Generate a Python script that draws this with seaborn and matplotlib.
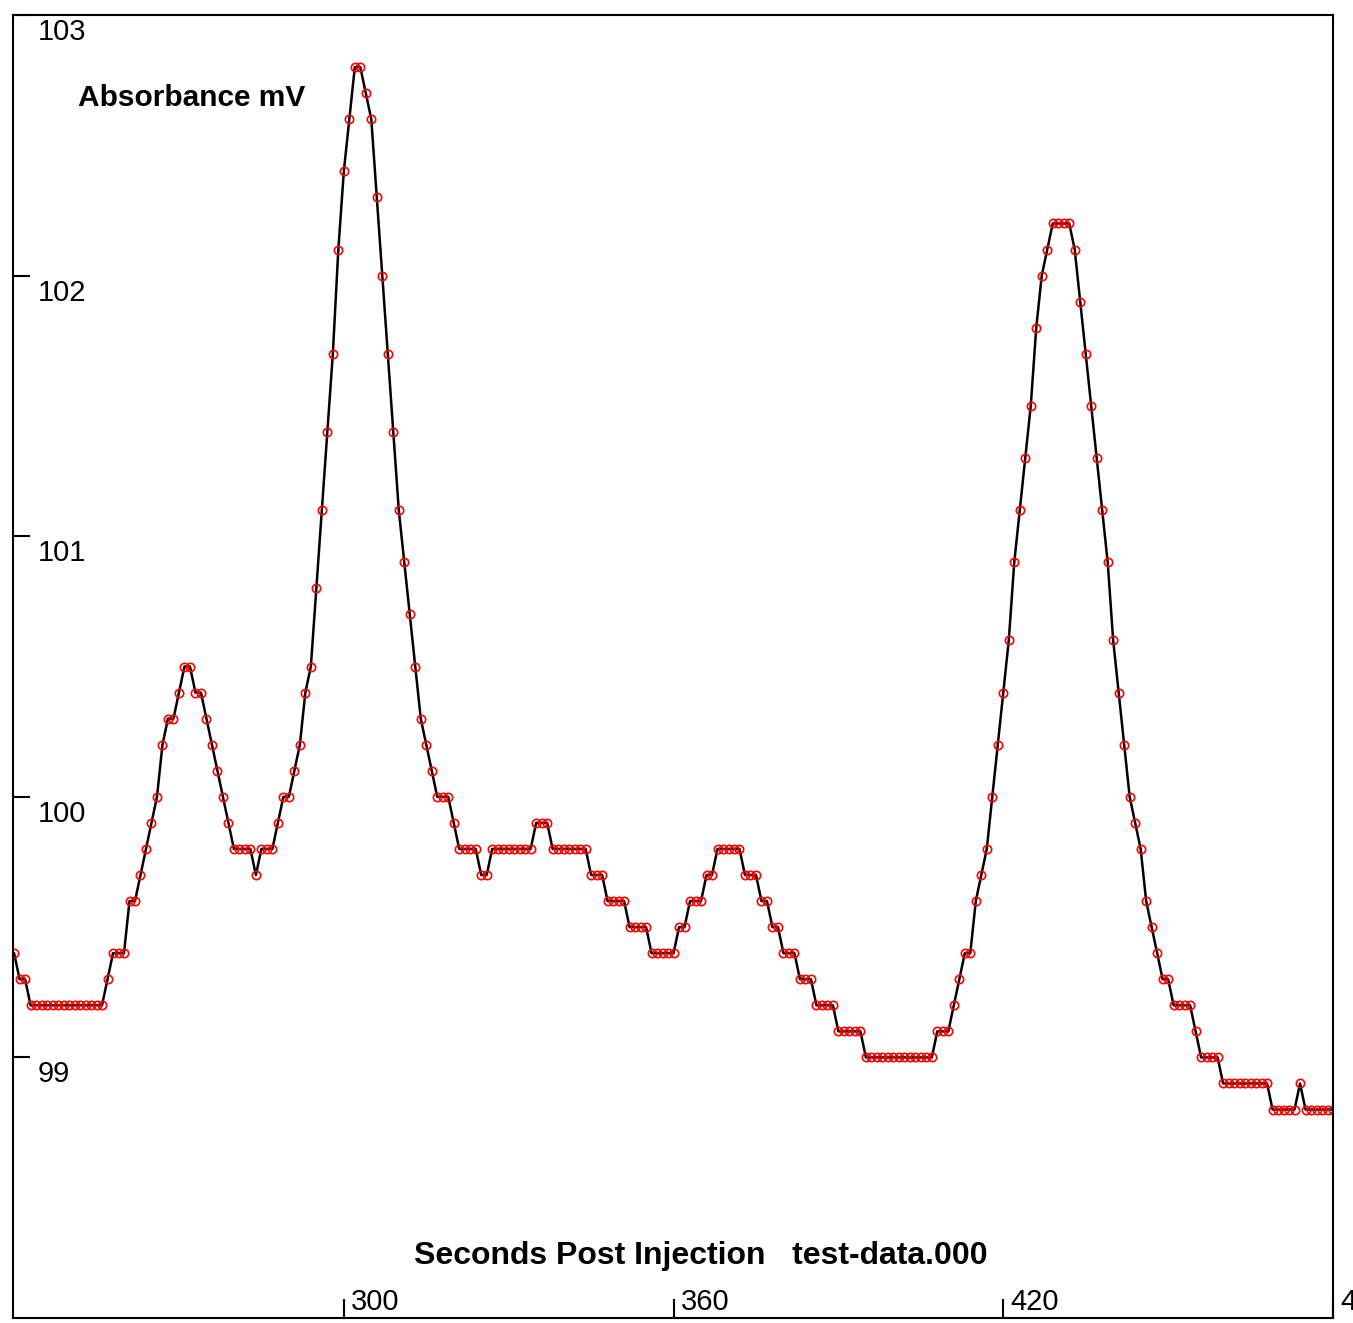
import numpy as np
import pandas as pd
import matplotlib
matplotlib.use("Agg")
import matplotlib.pyplot as plt
import matplotlib.transforms as mtransforms
import seaborn as sns

# Detector trace, one reading per second starting at 240 s (mV, 0.1 mV resolution)
first_second = 240
absorbance_mv = [
    99.4, 99.3, 99.3, 99.2, 99.2, 99.2, 99.2, 99.2, 99.2, 99.2,        # 240-249
    99.2, 99.2, 99.2, 99.2, 99.2, 99.2, 99.2, 99.3, 99.4, 99.4,        # 250-259
    99.4, 99.6, 99.6, 99.7, 99.8, 99.9, 100.0, 100.2, 100.3, 100.3,    # 260-269
    100.4, 100.5, 100.5, 100.4, 100.4, 100.3, 100.2, 100.1, 100.0, 99.9,  # 270-279
    99.8, 99.8, 99.8, 99.8, 99.7, 99.8, 99.8, 99.8, 99.9, 100.0,       # 280-289
    100.0, 100.1, 100.2, 100.4, 100.5, 100.8, 101.1, 101.4, 101.7, 102.1,  # 290-299
    102.4, 102.6, 102.8, 102.8, 102.7, 102.6, 102.3, 102.0, 101.7, 101.4,  # 300-309
    101.1, 100.9, 100.7, 100.5, 100.3, 100.2, 100.1, 100.0, 100.0, 100.0,  # 310-319
    99.9, 99.8, 99.8, 99.8, 99.8, 99.7, 99.7, 99.8, 99.8, 99.8,        # 320-329
    99.8, 99.8, 99.8, 99.8, 99.8, 99.9, 99.9, 99.9, 99.8, 99.8,        # 330-339
    99.8, 99.8, 99.8, 99.8, 99.8, 99.7, 99.7, 99.7, 99.6, 99.6,        # 340-349
    99.6, 99.6, 99.5, 99.5, 99.5, 99.5, 99.4, 99.4, 99.4, 99.4,        # 350-359
    99.4, 99.5, 99.5, 99.6, 99.6, 99.6, 99.7, 99.7, 99.8, 99.8,        # 360-369
    99.8, 99.8, 99.8, 99.7, 99.7, 99.7, 99.6, 99.6, 99.5, 99.5,        # 370-379
    99.4, 99.4, 99.4, 99.3, 99.3, 99.3, 99.2, 99.2, 99.2, 99.2,        # 380-389
    99.1, 99.1, 99.1, 99.1, 99.1, 99.0, 99.0, 99.0, 99.0, 99.0,        # 390-399
    99.0, 99.0, 99.0, 99.0, 99.0, 99.0, 99.0, 99.0, 99.1, 99.1,        # 400-409
    99.1, 99.2, 99.3, 99.4, 99.4, 99.6, 99.7, 99.8, 100.0, 100.2,      # 410-419
    100.4, 100.6, 100.9, 101.1, 101.3, 101.5, 101.8, 102.0, 102.1, 102.2,  # 420-429
    102.2, 102.2, 102.2, 102.1, 101.9, 101.7, 101.5, 101.3, 101.1, 100.9,  # 430-439
    100.6, 100.4, 100.2, 100.0, 99.9, 99.8, 99.6, 99.5, 99.4, 99.3,    # 440-449
    99.3, 99.2, 99.2, 99.2, 99.2, 99.1, 99.0, 99.0, 99.0, 99.0,        # 450-459
    98.9, 98.9, 98.9, 98.9, 98.9, 98.9, 98.9, 98.9, 98.9, 98.8,        # 460-469
    98.8, 98.8, 98.8, 98.8, 98.9, 98.8, 98.8, 98.8, 98.8, 98.8,        # 470-479
    98.8,                                                              # 480
]
seconds = first_second + np.arange(len(absorbance_mv))

x_ticks = [300, 360, 420, 480]
y_ticks = [99, 100, 101, 102, 103]
x_label = "Seconds Post Injection   test-data.000"
y_label = "Absorbance mV"

sns.set_theme(style="white")
plt.rcParams["font.family"] = ["Liberation Sans", "DejaVu Sans"]
plt.rcParams["text.color"] = "black"

W, H = 1353, 1323
fig = plt.figure(figsize=(W / 100, H / 100), dpi=100)
fig.patch.set_facecolor("white")
ax = fig.add_axes([13 / W, 5 / H, 1320 / W, 1303 / H])
ax.set_facecolor("white")

df = pd.DataFrame({"seconds": seconds, "mv": absorbance_mv})
sns.lineplot(
    data=df, x="seconds", y="mv", ax=ax,
    color="black", linewidth=1.8,
    marker="o", markersize=6, markerfacecolor="none",
    markeredgecolor="red", markeredgewidth=1.2,
)

ax.set_xlim(239.8, 479.6)
ax.set_ylim(98, 103)

# inward ticks, labels drawn inside the frame next to each tick
ax.set_xticks(x_ticks)
ax.set_yticks(y_ticks)
ax.tick_params(axis="both", direction="in", width=1.5, color="black",
               bottom=True, left=True, labelbottom=False, labelleft=False)
ax.tick_params(axis="x", length=14)
ax.tick_params(axis="y", length=12)

ytrans = mtransforms.blended_transform_factory(ax.transAxes, ax.transData)
ytrans = mtransforms.offset_copy(ytrans, fig=fig, x=25, y=-17, units="dots")
for v in y_ticks:
    ax.text(0, v, str(v), transform=ytrans, ha="left", va="center",
            fontsize=21, color="black", clip_on=False)

xtrans = mtransforms.blended_transform_factory(ax.transData, ax.transAxes)
xtrans = mtransforms.offset_copy(xtrans, fig=fig, x=7, y=16, units="dots")
for v in x_ticks:
    ax.text(v, 0, str(v), transform=xtrans, ha="left", va="center",
            fontsize=21, color="black", clip_on=False)

ax.set_xlabel(x_label, fontsize=23, fontweight="bold", color="black", va="center")
ax.xaxis.set_label_coords((701 - 13) / 1320, (1318 - 1256) / 1303)
ax.set_ylabel(y_label, fontsize=21.5, fontweight="bold", color="black",
              rotation=0, ha="left", va="center")
ax.yaxis.set_label_coords((78 - 13) / 1320, (1318 - 98) / 1303)

for s in ax.spines.values():
    s.set_visible(True)
    s.set_linewidth(1.5)
    s.set_color("black")

fig.savefig("out.png", dpi=100, facecolor="white")
